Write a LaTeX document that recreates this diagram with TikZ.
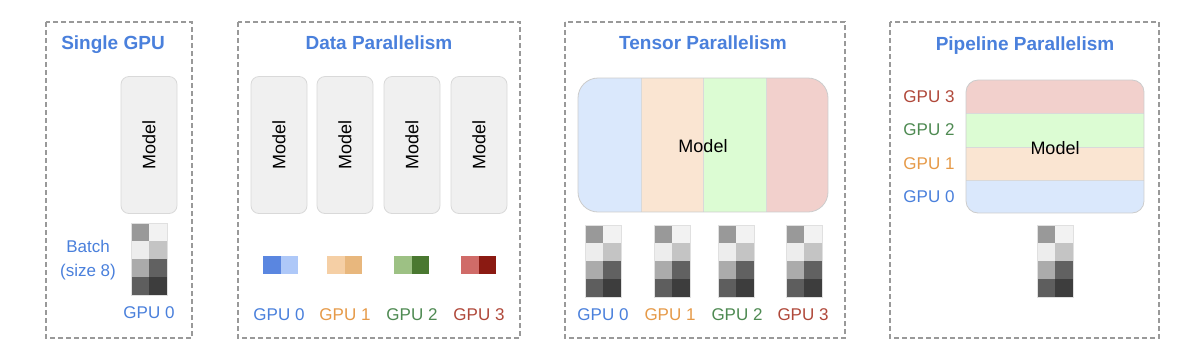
\documentclass[tikz,border=0pt]{standalone}
\usepackage{fontspec}
\setmainfont{Liberation Sans}
\definecolor{gblue}{HTML}{4A80DC}
\definecolor{gorange}{HTML}{E69A48}
\definecolor{ggreen}{HTML}{4E8A52}
\definecolor{gred}{HTML}{B0483A}
\definecolor{tblue}{HTML}{DAE8FC}
\definecolor{torange}{HTML}{FAE5D2}
\definecolor{tgreen}{HTML}{DCFCD3}
\definecolor{tred}{HTML}{F2D0CC}
\definecolor{bluedark}{HTML}{5A86E0}
\definecolor{bluelight}{HTML}{AEC8F8}
\definecolor{orangelight}{HTML}{F5CFA5}
\definecolor{orangedark}{HTML}{E8B77D}
\definecolor{greenlight}{HTML}{9DC184}
\definecolor{greendark}{HTML}{4A7830}
\definecolor{redlight}{HTML}{D06B68}
\definecolor{reddark}{HTML}{8B1A12}
\tikzset{
  panel/.style={draw=black!40, dash pattern=on 5pt off 3pt, line width=1.2pt},
  ptitle/.style={font=\fontsize{19}{22}\selectfont\bfseries, text=gblue},
  modelbox/.style={draw=black!15, fill=black!6, rounded corners=8pt, line width=0.8pt,
    rotate=90, minimum width=137pt, minimum height=56pt, font=\fontsize{18}{21}\selectfont},
  mtext/.style={font=\fontsize{18}{21}\selectfont},
  gpulabel/.style={font=\fontsize{17}{24}\selectfont}
}
% one batch of 8 samples, top left corner at (#1,#2)
\newcommand{\batchgrid}[2]{%
  \begin{scope}[shift={(#1,#2)}]
    \foreach \c/\r/\g in {0/0/40,1/0/5,0/1/7,1/1/23,0/2/33,1/2/62,0/3/63,1/3/76}
      \fill[black!\g] (\c*18,\r*18) rectangle ++(18,18);
    \draw[black!12, line width=0.5pt] (0,0) rectangle (36,72);
  \end{scope}}
\begin{document}
\begin{tikzpicture}[x=1pt, y=-1pt]
    \useasboundingbox[fill=white] (0,0) rectangle (1199,360);
    % panels
    \draw[panel] (46,22) rectangle (192,338);
    \draw[panel] (238,22) rectangle (520,338);
    \draw[panel] (565,22) rectangle (845,338);
    \draw[panel] (890,22) rectangle (1159,338);
    \node[ptitle] (t1) at (113,45) {Single GPU};
    \node[ptitle] (t2) at (379,43) {Data Parallelism};
    \node[ptitle] (t3) at (703,43) {Tensor Parallelism};
    \node[ptitle] (t4) at (1025,46) {Pipeline Parallelism};

    % single GPU
    \node[modelbox] (m0) at (149,145) {Model};
    \batchgrid{131}{223}
    \node[gpulabel, text=gblue, align=center] (batch) at (88,260) {Batch\\(size 8)};
    \node[gpulabel, text=gblue] (s0) at (149,313) {GPU 0};

    % data parallelism
    \node[modelbox] (d0) at (279,145) {Model};
    \node[modelbox] (d1) at (345,145) {Model};
    \node[modelbox] (d2) at (412,145) {Model};
    \node[modelbox] (d3) at (479,145) {Model};
    \fill[bluedark] (263,256) rectangle (280.5,274);
    \fill[bluelight] (280.5,256) rectangle (298,274);
    \fill[orangelight] (327,256) rectangle (344.5,274);
    \fill[orangedark] (344.5,256) rectangle (362,274);
    \fill[greenlight] (394,256) rectangle (411.5,274);
    \fill[greendark] (411.5,256) rectangle (429,274);
    \fill[redlight] (461,256) rectangle (478.5,274);
    \fill[reddark] (478.5,256) rectangle (496,274);
    \node[gpulabel, text=gblue] (dg0) at (279,315) {GPU 0};
    \node[gpulabel, text=gorange] (dg1) at (345,315) {GPU 1};
    \node[gpulabel, text=ggreen] (dg2) at (412,315) {GPU 2};
    \node[gpulabel, text=gred] (dg3) at (479,315) {GPU 3};

    % tensor parallelism
    \begin{scope}
      \clip[rounded corners=20pt] (578,78) rectangle (828,212);
      \fill[tblue] (578,78) rectangle (641,212);
      \fill[torange] (641,78) rectangle (703,212);
      \fill[tgreen] (703,78) rectangle (766,212);
      \fill[tred] (766,78) rectangle (828,212);
      \draw[black!15, line width=0.8pt] (641,78) -- (641,212) (703,78) -- (703,212) (766,78) -- (766,212);
    \end{scope}
    \draw[black!20, line width=0.8pt, rounded corners=20pt] (578,78) rectangle (828,212);
    \node[mtext] (tm) at (703,146) {Model};
    \batchgrid{585}{225}
    \batchgrid{654}{225}
    \batchgrid{718}{225}
    \batchgrid{786}{225}
    \node[gpulabel, text=gblue] (tg0) at (603,315) {GPU 0};
    \node[gpulabel, text=gorange] (tg1) at (670,315) {GPU 1};
    \node[gpulabel, text=ggreen] (tg2) at (737,315) {GPU 2};
    \node[gpulabel, text=gred] (tg3) at (803,315) {GPU 3};

    % pipeline parallelism
    \begin{scope}
      \clip[rounded corners=12pt] (966,80) rectangle (1144,213);
      \fill[tred] (966,80) rectangle (1144,113);
      \fill[tgreen] (966,113) rectangle (1144,147);
      \fill[torange] (966,147) rectangle (1144,180);
      \fill[tblue] (966,180) rectangle (1144,213);
      \draw[black!15, line width=0.8pt] (966,113) -- (1144,113) (966,147) -- (1144,147) (966,180) -- (1144,180);
    \end{scope}
    \draw[black!20, line width=0.8pt, rounded corners=12pt] (966,80) rectangle (1144,213);
    \node[mtext] (pm) at (1055,148) {Model};
    \node[gpulabel, text=gred, anchor=east] (pg3) at (958,97) {GPU 3};
    \node[gpulabel, text=ggreen, anchor=east] (pg2) at (958,130) {GPU 2};
    \node[gpulabel, text=gorange, anchor=east] (pg1) at (958,164) {GPU 1};
    \node[gpulabel, text=gblue, anchor=east] (pg0) at (958,197) {GPU 0};
    \batchgrid{1037}{225}
\end{tikzpicture}
\end{document}
